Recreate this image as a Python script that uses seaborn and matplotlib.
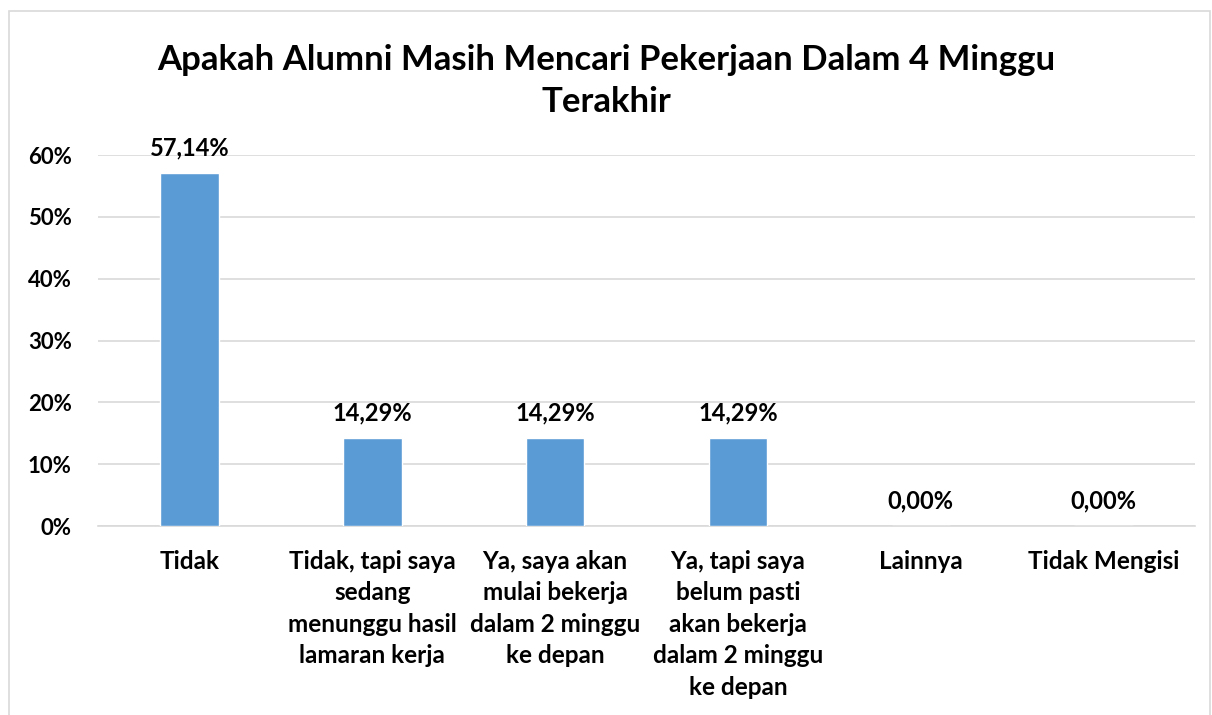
import matplotlib
matplotlib.use("Agg")
import matplotlib.pyplot as plt
import seaborn as sns
import pandas as pd
from matplotlib.patches import Rectangle

categories = ["Tidak",
              "Tidak, tapi saya\nsedang\nmenunggu hasil\nlamaran kerja",
              "Ya, saya akan\nmulai bekerja\ndalam 2 minggu\nke depan",
              "Ya, tapi saya\nbelum pasti\nakan bekerja\ndalam 2 minggu\nke depan",
              "Lainnya",
              "Tidak Mengisi"]
values = [57.14, 14.29, 14.29, 14.29, 0.00, 0.00]
yticks = [0, 10, 20, 30, 40, 50, 60]
title = "Apakah Alumni Masih Mencari Pekerjaan Dalam 4 Minggu\nTerakhir"

sns.set_theme(style="white")
plt.rcParams['font.family'] = ['Lato', 'DejaVu Sans']
plt.rcParams['font.weight'] = 'bold'

df = pd.DataFrame({"cat": categories, "val": values})

fig = plt.figure(figsize=(12.12, 7.15), dpi=100)
ax = fig.add_axes([0.0809, 0.2643, 0.9051, 0.5189])

sns.barplot(data=df, x="cat", y="val", color="#5B9BD5", saturation=1,
            width=0.32, ax=ax, zorder=3)

ax.set_ylim(0, 60)
ax.set_yticks(yticks)
ax.set_yticklabels([f"{t}%" for t in yticks], fontsize=16, fontweight='bold',
                   color="black")
ax.yaxis.grid(True, color="#D9D9D9", linewidth=1.2, zorder=0)
ax.set_axisbelow(True)
for s in ["top", "right", "left"]:
    ax.spines[s].set_visible(False)
ax.spines["bottom"].set_color("#D9D9D9")
ax.spines["bottom"].set_linewidth(1.2)
ax.set_xlabel("")
ax.set_ylabel("")
ax.tick_params(axis='x', length=0, pad=17)
ax.tick_params(axis='y', length=0, pad=19)
ax.set_xticks(range(len(categories)))
ax.set_xticklabels(categories, fontsize=17.5, fontweight='bold', linespacing=1.45,
                   color="black")

for i, v in enumerate(values):
    ax.annotate(f"{v:.2f}%".replace(".", ","), (i, v), xytext=(0, 9.5),
                textcoords="offset points", ha="center", va="bottom",
                fontsize=17, fontweight='bold', color="black")

fig.text(0.5, 0.887, title, ha="center", va="center", fontsize=25,
         fontweight='bold', linespacing=1.38, color="black")

fig.patches.append(Rectangle((9/1212, -0.01), 1 - 9/1212 - 2/1212, 1 - 11/715 + 0.01,
                             transform=fig.transFigure, fill=False,
                             edgecolor="#D9D9D9", linewidth=1.2))

fig.savefig("out.png", dpi=100)
